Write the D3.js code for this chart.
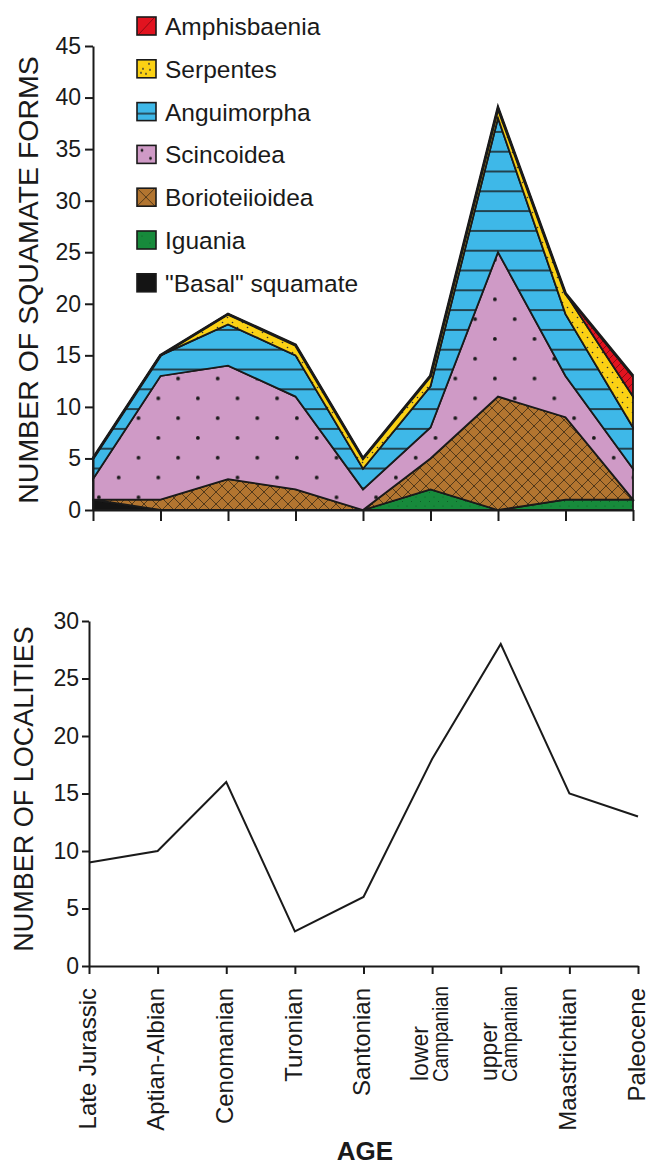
<!DOCTYPE html>
<html>
<head>
<meta charset="utf-8">
<script src="https://cdn.jsdelivr.net/npm/d3@7"></script>
<style>
  body { margin: 0; background: #fff; }
  text { font-family: "Liberation Sans", Arial, sans-serif; fill: #1a1a1a; }
</style>
</head>
<body>
<div id="chart"></div>
<script>
// ages along the x axis
const ages = ["Late Jurassic", "Aptian-Albian", "Cenomanian", "Turonian", "Santonian",
              "lower Campanian", "upper Campanian", "Maastrichtian", "Paleocene"];
const ageLabels = [["Late Jurassic"], ["Aptian-Albian"], ["Cenomanian"], ["Turonian"], ["Santonian"],
                   ["lower", "Campanian"], ["upper", "Campanian"], ["Maastrichtian"], ["Paleocene"]];

// number of forms per group (stacked, bottom first)
const basal          = [1, 0, 0, 0, 0, 0, 0, 0, 0];
const iguania        = [0, 0, 0, 0, 0, 2, 0, 1, 1];
const borioteiioidea = [0, 1, 3, 2, 0, 3, 11, 8, 0];
const scincoidea     = [2, 12, 11, 9, 2, 3, 14, 4, 3];
const anguimorpha    = [2, 2, 4, 4, 2, 4, 13, 6, 4];
const serpentes      = [0, 0, 1, 1, 1, 1, 1, 2, 3];
const amphisbaenia   = [0, 0, 0, 0, 0, 0, 0, 0, 2];

// number of localities per age
const localities = [9, 10, 16, 3, 6, 18, 28, 15, 13];

const keys = ["basal", "iguania", "borioteiioidea", "scincoidea", "anguimorpha", "serpentes", "amphisbaenia"];
const names = {
  basal: "\"Basal\" squamate", iguania: "Iguania", borioteiioidea: "Borioteiioidea",
  scincoidea: "Scincoidea", anguimorpha: "Anguimorpha", serpentes: "Serpentes", amphisbaenia: "Amphisbaenia"
};
const series = {basal, iguania, borioteiioidea, scincoidea, anguimorpha, serpentes, amphisbaenia};

const rows = ages.map((a, i) => {
  const r = {age: a};
  keys.forEach(k => r[k] = series[k][i]);
  return r;
});

const ink = "#1a1a1a";

const svg = d3.select("#chart").append("svg")
    .attr("width", 649)
    .attr("height", 1169);

const defs = svg.append("defs");

//////////////////////////////////////////////////////////////
//                         patterns
//////////////////////////////////////////////////////////////

function pattern(id, w, h, ox, oy, color, draw) {
  const p = defs.append("pattern")
    .attr("id", id)
    .attr("patternUnits", "userSpaceOnUse")
    .attr("width", w).attr("height", h)
    .attr("x", ox).attr("y", oy);
  p.append("rect").attr("width", w).attr("height", h).attr("fill", color);
  draw(p);
}

const dots = (pts, r, c) => p => pts.forEach(([x, y]) =>
  p.append("circle").attr("cx", x).attr("cy", y).attr("r", r).attr("fill", c));
const hline = (y, w) => p => p.append("line")
  .attr("x1", 0).attr("x2", w).attr("y1", y).attr("y2", y)
  .attr("stroke", ink).attr("stroke-width", 1.3);
const cross = (s, c) => p => p.append("path")
  .attr("d", `M-1,-1L${s + 1},${s + 1}M-1,${s + 1}L${s + 1},-1`)
  .attr("stroke", c).attr("stroke-width", 0.8).attr("fill", "none");
const diag = (s, c) => p => p.append("path")
  .attr("d", `M-1,${s + 1}L${s + 1},-1M${-s / 2},${s / 2}L${s / 2},${-s / 2}M${s / 2},${s * 1.5}L${s * 1.5},${s / 2}`)
  .attr("stroke", c).attr("stroke-width", 1).attr("fill", "none");

const colors = {
  basal: "#141414", iguania: "#178a3b", borioteiioidea: "#b27530", scincoidea: "#cf9ac6",
  anguimorpha: "#3eb8e8", serpentes: "#fbd114", amphisbaenia: "#e2131f"
};

// chart patterns
pattern("p-basal", 10, 10, 0, 0, colors.basal, () => {});
pattern("p-iguania", 9, 9, 0, 0, colors.iguania, dots([[2, 2], [6.5, 6.5]], 0.5, "#0c4f20"));
pattern("p-borioteiioidea", 12, 12, 0, 0, colors.borioteiioidea, cross(12, "#3a2a14"));
pattern("p-scincoidea", 39.6, 39.6, 148.5, 388.5, colors.scincoidea,
        dots([[9.8, 9.8], [29.6, 29.6]], 1.9, ink));
pattern("p-anguimorpha", 40, 19.8, 0, 141.8, colors.anguimorpha, hline(9.9, 40));
pattern("p-serpentes", 10, 10, 0, 0, colors.serpentes, dots([[2.5, 2.5], [7.5, 7.5]], 0.8, "#333"));
pattern("p-amphisbaenia", 8, 8, 0, 0, colors.amphisbaenia, diag(8, "#8e0a12"));

// legend swatch patterns (smaller tiles so each swatch shows its motif)
pattern("l-basal", 18, 18, 0, 0, colors.basal, () => {});
pattern("l-iguania", 18, 18, 0, 0, colors.iguania, dots([[5, 5], [13, 12]], 0.5, "#0c4f20"));
pattern("l-borioteiioidea", 18, 18, 9, 9, colors.borioteiioidea, cross(18, "#3a2a14"));
pattern("l-scincoidea", 19, 18, 0, 0, colors.scincoidea, dots([[5, 5], [13.5, 13]], 1.4, ink));
pattern("l-anguimorpha", 19, 18, 0, 0, colors.anguimorpha, hline(11, 19));
pattern("l-serpentes", 19, 18, 0, 0, colors.serpentes,
        dots([[12, 4], [6, 9], [13, 10], [9, 14], [4, 13]], 0.9, "#333"));
pattern("l-amphisbaenia", 19, 18, 0, 0, colors.amphisbaenia, p => p.append("path")
  .attr("d", "M2,17L17,1").attr("stroke", "#8e0a12").attr("stroke-width", 1).attr("fill", "none"));

//////////////////////////////////////////////////////////////
//                     stacked area chart
//////////////////////////////////////////////////////////////

const x = d3.scalePoint().domain(ages).range([93, 633]);
const y = d3.scaleLinear().domain([0, 45]).range([510, 46]);

const stacked = d3.stack().keys(keys)(rows);

const area = d3.area()
  .x(d => x(d.data.age))
  .y0(d => y(d[0]))
  .y1(d => y(d[1]));

svg.append("g")
  .selectAll("path")
  .data(stacked)
  .join("path")
  .attr("d", area)
  .attr("fill", s => `url(#p-${s.key})`)
  .attr("stroke", ink)
  .attr("stroke-width", 1.8)
  .attr("stroke-linejoin", "miter");

// heavier outer outline
const outer = stacked[stacked.length - 1];
svg.append("path")
  .datum(outer)
  .attr("d", d3.line().x(d => x(d.data.age)).y(d => y(d[1])))
  .attr("fill", "none")
  .attr("stroke", ink)
  .attr("stroke-width", 3);

function styleAxis(g, fontSize) {
  g.select(".domain").attr("stroke", ink).attr("stroke-width", 2);
  g.selectAll(".tick line").attr("stroke", ink).attr("stroke-width", 2);
  g.selectAll(".tick text")
    .attr("font-family", "Liberation Sans, Arial, sans-serif")
    .attr("font-size", fontSize)
    .attr("fill", ink);
}

svg.append("g")
  .attr("transform", "translate(93,0)")
  .call(d3.axisLeft(y).tickValues(d3.range(0, 46, 5)).tickSize(8).tickSizeOuter(0).tickPadding(4))
  .call(g => styleAxis(g, 23));

svg.append("g")
  .attr("transform", "translate(0,510)")
  .call(d3.axisBottom(x).tickSize(11).tickSizeOuter(0).tickFormat(""))
  .call(g => styleAxis(g, 23));

svg.append("text")
  .attr("transform", "translate(38,280) rotate(-90)")
  .attr("text-anchor", "middle")
  .attr("font-size", 28.5)
  .text("NUMBER OF SQUAMATE FORMS");

// legend
const legend = svg.append("g")
  .selectAll("g")
  .data(keys.slice().reverse())
  .join("g")
  .attr("transform", (k, i) => `translate(137,${17 + i * 42.8})`);

legend.append("rect")
  .attr("width", 19)
  .attr("height", 18)
  .attr("fill", k => `url(#l-${k})`)
  .attr("stroke", ink)
  .attr("stroke-width", 1.6);

legend.append("text")
  .attr("x", 28)
  .attr("y", 18)
  .attr("font-size", 24.5)
  .text(k => names[k]);

//////////////////////////////////////////////////////////////
//                     localities line chart
//////////////////////////////////////////////////////////////

const xB = d3.scalePoint().domain(ages).range([89, 638]);
const yB = d3.scaleLinear().domain([0, 30]).range([966, 621]);

svg.append("path")
  .datum(localities)
  .attr("d", d3.line().x((d, i) => xB(ages[i])).y(d => yB(d)))
  .attr("fill", "none")
  .attr("stroke", ink)
  .attr("stroke-width", 2);

svg.append("g")
  .attr("transform", "translate(89,0)")
  .call(d3.axisLeft(yB).tickValues(d3.range(0, 31, 5)).tickSize(7).tickSizeOuter(0).tickPadding(3))
  .call(g => styleAxis(g, 23));

svg.append("g")
  .attr("transform", "translate(0,966)")
  .call(d3.axisBottom(xB).tickSize(8).tickSizeOuter(0).tickFormat(""))
  .call(g => styleAxis(g, 23));

svg.append("text")
  .attr("transform", "translate(33,789) rotate(-90)")
  .attr("text-anchor", "middle")
  .attr("font-size", 27)
  .text("NUMBER OF LOCALITIES");

// age labels, rotated
ageLabels.forEach((lines, i) => {
  const tx = xB(ages[i]);
  if (lines.length === 1) {
    svg.append("text")
      .attr("transform", `translate(${tx},988) rotate(-90)`)
      .attr("text-anchor", "end")
      .attr("dy", "0.28em")
      .attr("font-size", 24)
      .text(lines[0]);
  } else {
    svg.append("text")
      .attr("transform", `translate(${tx - 4},1081) rotate(-90)`)
      .attr("text-anchor", "start")
      .attr("font-size", 23)
      .text(lines[0]);
    svg.append("text")
      .attr("transform", `translate(${tx + 16},1082) rotate(-90)`)
      .attr("text-anchor", "start")
      .attr("font-size", 22)
      .attr("textLength", 96)
      .attr("lengthAdjust", "spacingAndGlyphs")
      .text(lines[1]);
  }
});

svg.append("text")
  .attr("x", 365)
  .attr("y", 1160)
  .attr("text-anchor", "middle")
  .attr("font-size", 26)
  .attr("font-weight", "bold")
  .text("AGE");
</script>
</body>
</html>
